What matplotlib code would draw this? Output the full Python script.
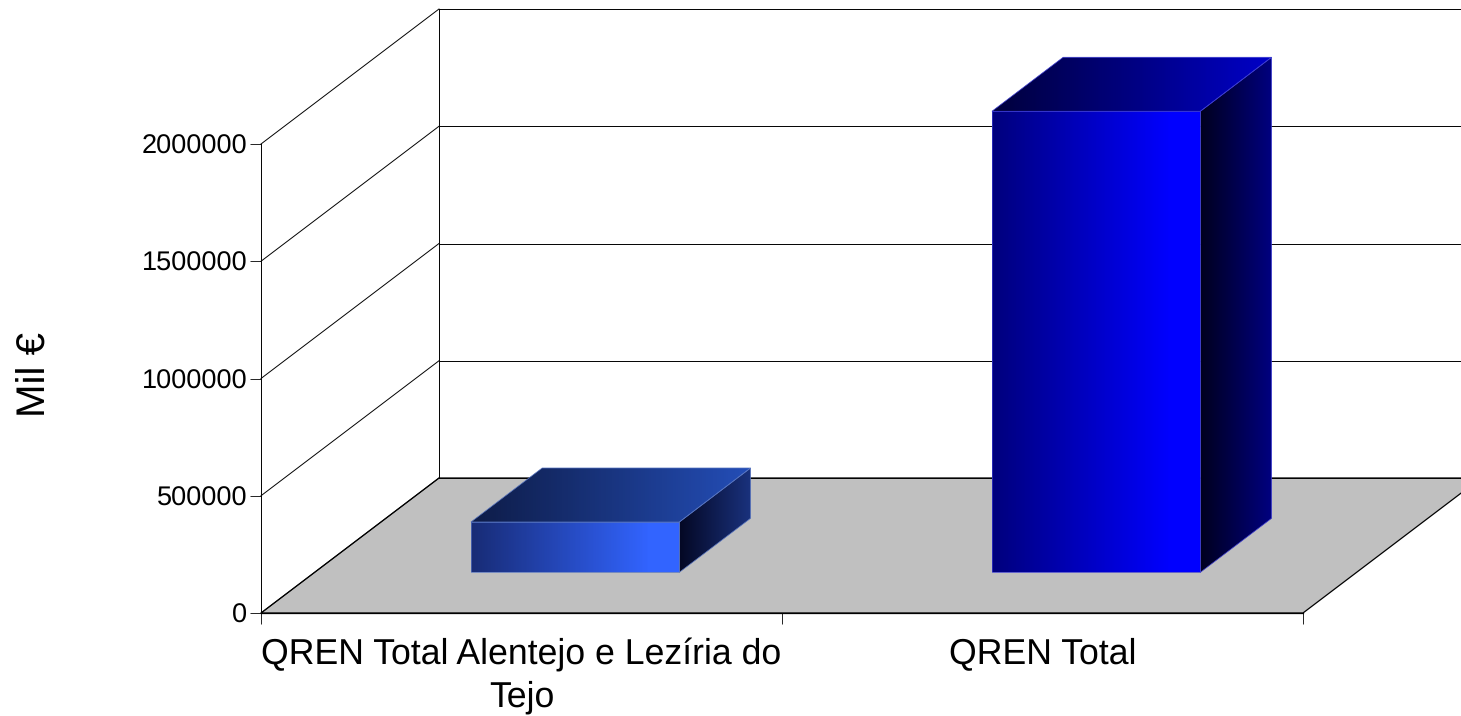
import numpy as np
import matplotlib
matplotlib.use('Agg')
import matplotlib.pyplot as plt
from matplotlib.patches import Polygon

plt.rcParams['font.family'] = ['Liberation Sans', 'DejaVu Sans']
plt.rcParams['text.hinting'] = 'no_hinting'

# Data
categories = ['QREN Total Alentejo e Lezíria do\nTejo', 'QREN Total']
values = [214500, 1966000]
y_ticks = [0, 500000, 1000000, 1500000, 2000000]
y_label = 'Mil €'

# front, side and top gradients of each bar (left colour, right colour)
front_colours = [((24, 44, 118), (50, 100, 255)), ((0, 0, 125), (0, 0, 255))]
side_colours = [((4, 8, 36), (26, 50, 126)), ((0, 0, 30), (0, 0, 128))]
top_colours = [((14, 28, 72), (36, 78, 184)), ((0, 0, 60), (0, 0, 200))]
edge_colours = ['#5573c0', '#3a3ad0']

W, H = 1461, 716
left, right, bottom, top = 261, 1303, 613, 144

fig = plt.figure(figsize=(W / 100, H / 100), dpi=100)
ax = fig.add_axes([left / W, 1 - bottom / H, (right - left) / W, (bottom - top) / H])
ax.set_xlim(0, len(categories))
ax.set_ylim(0, 2000000)
ax.patch.set_visible(False)

# size of the 3D depth in data units
depth_x = 178 / ((right - left) / len(categories))
depth_y = 135 / ((bottom - top) / 2000000)
bar_width = 0.4
bar_front = 0.3015
bar_back = 0.7015
y_max = y_ticks[-1]
n = len(categories)


def grad_poly(xs, ys, colours, z, stop=1.0):
    # horizontal colour gradient clipped to a polygon, flat after stop
    c0, c1 = np.array(colours[0]), np.array(colours[1])
    t = np.clip(np.linspace(0, 1, 128) / stop, 0, 1)[None, :, None]
    img = ((1 - t) * c0 + t * c1).astype(np.uint8)
    im = ax.imshow(img, extent=[min(xs), max(xs), min(ys), max(ys)], aspect='auto',
                   interpolation='bilinear', zorder=z)
    im.set_clip_box(fig.bbox)
    im.set_clip_path(Polygon(list(zip(xs, ys)), transform=ax.transData))


# Floor
ax.add_patch(Polygon([(0, 0), (n, 0), (n + depth_x, depth_y), (depth_x, depth_y)],
                     facecolor='#c0c0c0', edgecolor='black', lw=0.9, clip_on=False, zorder=1))

# Walls and gridlines
for t in y_ticks:
    ax.plot([0, depth_x], [t, t + depth_y], color='black', lw=0.7, clip_on=False, zorder=1.5)
    ax.plot([depth_x, n + depth_x], [t + depth_y, t + depth_y], color='black', lw=0.7,
            clip_on=False, zorder=1.5)
ax.plot([depth_x, depth_x], [depth_y, y_max + depth_y], color='black', lw=0.7, clip_on=False, zorder=1.5)

# Bars
for i, v in enumerate(values):
    x0 = i + 0.5 - bar_width / 2 + bar_front * depth_x
    x1 = x0 + bar_width
    y0 = bar_front * depth_y
    y1 = y0 + v
    dx = (bar_back - bar_front) * depth_x
    dy = (bar_back - bar_front) * depth_y
    faces = [
        ([x0, x1, x1, x0], [y0, y0, y1, y1], front_colours[i], 0.85),
        ([x1, x1 + dx, x1 + dx, x1], [y0, y0 + dy, y1 + dy, y1], side_colours[i], 1.0),
        ([x0, x1, x1 + dx, x0 + dx], [y1, y1, y1 + dy, y1 + dy], top_colours[i], 1.0),
    ]
    for xs, ys, cols, stop in faces:
        grad_poly(xs, ys, cols, 2 + i, stop)
        ax.add_patch(Polygon(list(zip(xs, ys)), fill=False, edgecolor=edge_colours[i], lw=0.5,
                             clip_on=False, zorder=2.5 + i))

# imshow resets the limits
ax.set_xlim(0, n)
ax.set_ylim(0, y_max)

for s in ['top', 'right']:
    ax.spines[s].set_visible(False)
ax.spines['left'].set_linewidth(0.7)
ax.spines['bottom'].set_linewidth(0.9)

ax.set_yticks(y_ticks)
ax.set_yticklabels([str(t) for t in y_ticks], fontsize=19.5)
ax.tick_params(axis='y', length=8, width=0.6, pad=2)
ax.set_xticks(range(n + 1))
ax.set_xticklabels([''] * (n + 1))
ax.tick_params(axis='x', length=8, width=0.6)
ax.set_xticks([i + 0.5 for i in range(n)], minor=True)
ax.set_xticklabels(categories, minor=True, fontsize=25.7, linespacing=1.38)
ax.tick_params(axis='x', which='minor', length=0, pad=17)

fig.text(35 / W, 1 - 375 / H, y_label, rotation=90, fontsize=29, ha='center', va='center')

fig.savefig('out.png', dpi=100)
